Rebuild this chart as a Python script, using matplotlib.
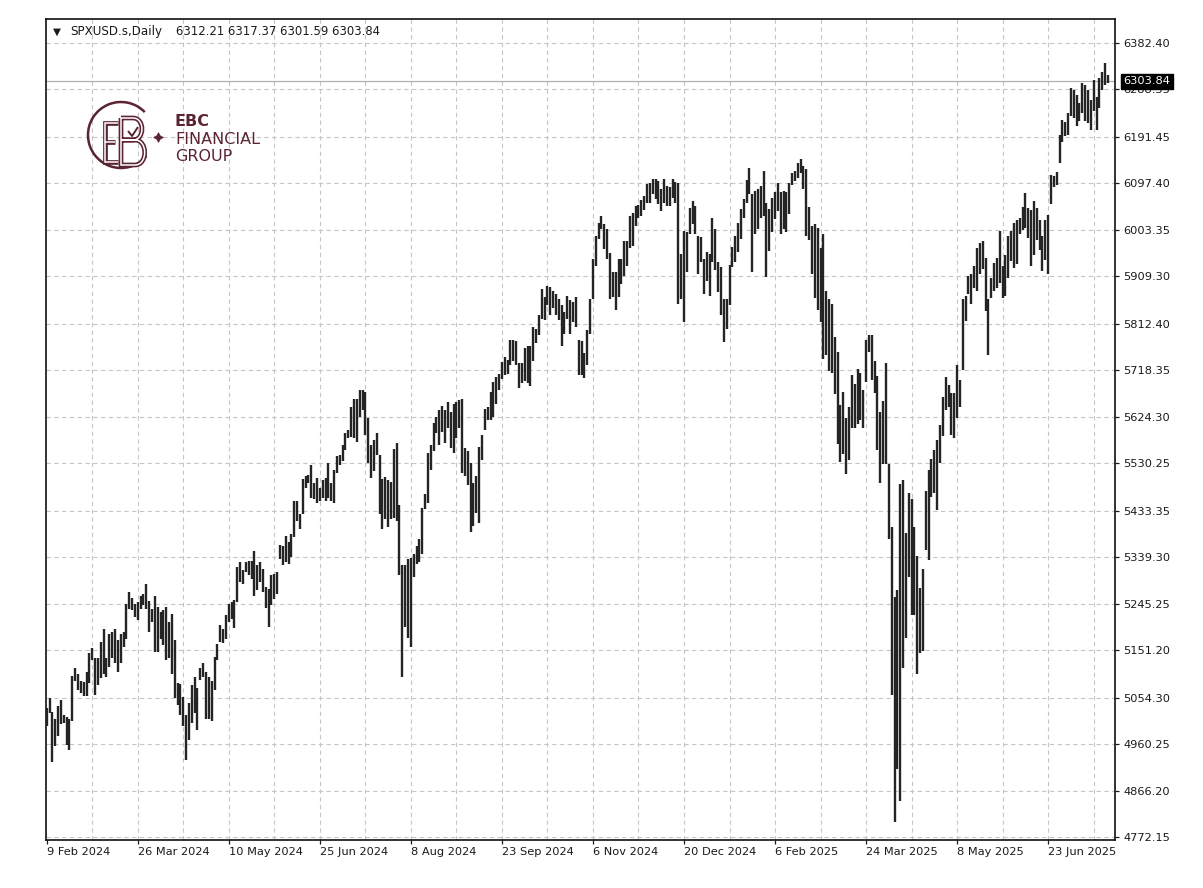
import matplotlib
matplotlib.use("Agg")
import matplotlib.pyplot as plt
import matplotlib.patheffects as pe
from matplotlib.patches import Arc, PathPatch
from matplotlib.path import Path
import numpy as np

# ---- data ----
symbol = "SPXUSD.s,Daily"
last_ohlc = [6312.21, 6317.37, 6301.59, 6303.84]
date_labels = ["9 Feb 2024", "26 Mar 2024", "10 May 2024", "25 Jun 2024",
               "8 Aug 2024", "23 Sep 2024", "6 Nov 2024", "20 Dec 2024",
               "6 Feb 2025", "24 Mar 2025", "8 May 2025", "23 Jun 2025"]
price_ticks = [6382.40, 6288.55, 6191.45, 6097.40, 6003.35, 5909.30, 5812.40,
               5718.35, 5624.30, 5530.25, 5433.35, 5339.30, 5245.25, 5151.20,
               5054.30, 4960.25, 4866.20, 4772.15]

# daily highs, Feb 2024 -> Jul 2025
highs = [
    5034, 5054, 5027, 5011, 5039, 5050, 5021, 5016, 5012, 5099,
    5115, 5103, 5088, 5086, 5108, 5146, 5155, 5135, 5135, 5168,
    5195, 5135, 5185, 5188, 5195, 5171, 5185, 5188, 5245, 5269,
    5258, 5245, 5249, 5262, 5265, 5285, 5252, 5235, 5262, 5238,
    5228, 5232, 5238, 5208, 5225, 5171, 5084, 5083, 5057, 5021,
    5044, 5081, 5098, 5074, 5115, 5125, 5108, 5098, 5088, 5138,
    5163, 5202, 5195, 5222, 5245, 5248, 5254,
    5319, 5331, 5313, 5331, 5333, 5333, 5353, 5324, 5330, 5316,
    5279, 5276, 5303, 5306, 5309, 5364, 5363, 5383, 5370, 5386,
    5453, 5453, 5427, 5498, 5504, 5507, 5527, 5490, 5500, 5480,
    5497, 5500, 5530, 5490, 5517, 5544, 5547, 5567, 5591, 5597,
    5644, 5661, 5661, 5678, 5679, 5675, 5621, 5567, 5577, 5591,
    5547, 5498, 5502, 5496, 5493, 5559, 5571, 5445, 5323, 5323,
    5336, 5339, 5346, 5363, 5376, 5440, 5467, 5551, 5567, 5611,
    5624, 5638, 5646, 5638, 5654, 5634, 5651, 5654, 5658, 5661,
    5561, 5554, 5531, 5490, 5504, 5564, 5587, 5641, 5644, 5675,
    5695, 5705, 5711, 5735, 5745, 5740,
    5780, 5780, 5778, 5733, 5733, 5763, 5767, 5767, 5807, 5803,
    5830, 5884, 5867, 5890, 5887, 5880, 5874, 5864, 5850, 5837,
    5870, 5860, 5857, 5867, 5780, 5777, 5753, 5800, 5864, 5944,
    5991, 6017, 6031, 6014, 6004, 5957, 5917, 5917, 5944, 5944,
    5980, 5980, 6031, 6037, 6051, 6054, 6064, 6071, 6097,
    6099, 6107, 6106, 6102, 6085, 6106, 6092, 6089, 6106, 6100,
    6098, 5954, 6001, 5998, 6048, 6062, 6052, 5991, 5988, 5944,
    5958, 5954, 6028, 6005, 5937, 5927, 5864, 5864, 5931, 5968,
    5991, 6018, 6045, 6065, 6105, 6129, 6075, 6082, 6085, 6092,
    6122, 6058, 6045, 6068, 6079, 6099, 6079, 6082, 6079, 6099,
    6119, 6122, 6139, 6146, 6132, 6126, 6050,
    6011, 6015, 6007, 5966, 5994, 5880, 5864, 5852, 5787, 5755,
    5649, 5674, 5621, 5645, 5710, 5690, 5722, 5714, 5678, 5779,
    5791, 5791, 5738, 5706, 5633, 5657, 5734, 5528, 5400, 5260,
    5274, 5489, 5497, 5388, 5469, 5457, 5400, 5343, 5278, 5316,
    5473, 5516, 5538, 5558, 5578, 5608, 5665, 5705, 5689, 5672,
    5672, 5729, 5699,
    5863, 5870, 5910, 5913, 5930, 5967, 5977, 5980, 5947, 5863,
    5906, 5936, 5946, 6000, 5930, 5953, 5990, 6000, 6017, 6024,
    6027, 6050, 6077, 6047, 6044, 6061, 6047, 6024, 5990, 6024,
    6034,
    6115, 6112, 6120, 6196, 6226, 6222, 6240, 6290, 6287, 6277,
    6260, 6300, 6297, 6287, 6267, 6307, 6273, 6310, 6324, 6342,
    6317.37,
]

# daily lows, same bars
lows = [
    4997, 5024, 4925, 4957, 4977, 5001, 5004, 4960, 4950, 5007,
    5088, 5071, 5064, 5058, 5058, 5084, 5131, 5061, 5081, 5094,
    5104, 5098, 5118, 5135, 5125, 5108, 5125, 5158, 5175, 5235,
    5232, 5218, 5212, 5235, 5242, 5235, 5188, 5208, 5148, 5148,
    5175, 5161, 5131, 5135, 5104, 5054, 5041, 5021, 4997, 4929,
    4970, 5004, 5024, 4990, 5091, 5098, 5011, 5011, 5007, 5071,
    5131, 5168, 5165, 5175, 5208, 5215, 5196,
    5249, 5289, 5286, 5309, 5304, 5296, 5261, 5273, 5289, 5269,
    5236, 5199, 5243, 5256, 5266, 5336, 5323, 5330, 5326, 5340,
    5380, 5413, 5397, 5427, 5480, 5490, 5460, 5457, 5450, 5453,
    5460, 5453, 5460, 5453, 5450, 5510, 5527, 5534, 5557, 5581,
    5584, 5581, 5574, 5624, 5638, 5587, 5530, 5500, 5514, 5547,
    5427, 5397, 5417, 5400, 5417, 5420, 5413, 5303, 5096, 5199,
    5176, 5157, 5299, 5326, 5330, 5346, 5437, 5450, 5517, 5554,
    5591, 5567, 5594, 5571, 5601, 5561, 5551, 5581, 5601, 5510,
    5504, 5487, 5390, 5403, 5430, 5410, 5537, 5597, 5618, 5618,
    5624, 5651, 5678, 5700, 5708, 5712,
    5730, 5737, 5730, 5683, 5693, 5696, 5693, 5686, 5737, 5773,
    5790, 5823, 5820, 5850, 5830, 5844, 5830, 5820, 5767, 5793,
    5823, 5793, 5817, 5807, 5710, 5710, 5703, 5730, 5793, 5864,
    5930, 5984, 6004, 5964, 5944, 5864, 5867, 5840, 5867, 5894,
    5910, 5930, 5967, 5970, 6011, 6027, 6031, 6044, 6057,
    6058, 6075, 6065, 6055, 6042, 6058, 6052, 6052, 6068, 6058,
    5853, 5864, 5816, 5917, 5995, 6015, 5995, 5914, 5937, 5874,
    5900, 5870, 5937, 5921, 5877, 5830, 5776, 5803, 5850, 5927,
    5937, 5958, 5984, 6028, 6058, 6075, 5917, 5995, 6005, 6028,
    6032, 5907, 5961, 5998, 6025, 6042, 5995, 6005, 5998, 6035,
    6095, 6102, 6109, 6119, 6085, 5990, 5983,
    5914, 5865, 5840, 5816, 5742, 5750, 5718, 5714, 5670, 5569,
    5532, 5548, 5508, 5536, 5601, 5601, 5609, 5617, 5601, 5694,
    5755, 5698, 5673, 5557, 5490, 5528, 5528, 5376, 5060, 4803,
    4910, 4846, 5116, 5177, 5299, 5222, 5222, 5104, 5145, 5149,
    5355, 5335, 5461, 5469, 5436, 5531, 5585, 5638, 5645, 5588,
    5581, 5622, 5645,
    5720, 5819, 5873, 5853, 5886, 5880, 5913, 5923, 5839, 5749,
    5866, 5880, 5886, 5896, 5866, 5869, 5906, 5940, 5926, 5933,
    5994, 6003, 6007, 5987, 5930, 5953, 5983, 5963, 5920, 5943,
    5913,
    6055, 6090, 6095, 6139, 6181, 6193, 6196, 6233, 6230, 6213,
    6223, 6240, 6223, 6220, 6206, 6243, 6206, 6250, 6287, 6297,
    6301.59,
]

W, H = 1203, 888
bar_col = "#242424"
grid_col = "#c6c6c6"
logo_col = "#5a2432"
txt_col = "#1a1a1a"

fig = plt.figure(figsize=(W / 100, H / 100), dpi=100)
fig.patch.set_facecolor("white")

# plot frame in pixels: left 46, right 1115, top 19, bottom 840
ax = fig.add_axes([46 / W, 1 - 840 / H, (1115 - 46) / W, (840 - 19) / H])
x = np.arange(len(highs))
ax.vlines(x, lows, highs, color=bar_col, linewidth=1.7, zorder=3)

ax.set_xlim(-0.25, 375.5)
ax.set_ylim(4766.7, 6430.4)

# dashed grid
for p in price_ticks:
    ax.axhline(p, color=grid_col, lw=0.8, ls=(0, (4, 3)), zorder=1)
for i in range(16, 376, 16):
    ax.axvline(i, color=grid_col, lw=0.8, ls=(0, (4, 3)), zorder=1)

# current price line
ax.axhline(last_ohlc[3], color="#b0b0b0", lw=0.9, zorder=2)

for s in ax.spines.values():
    s.set_linewidth(1.2)
    s.set_color("#111111")

ax.yaxis.tick_right()
ax.set_yticks(price_ticks)
ax.set_yticklabels([f"{p:.2f}" for p in price_ticks])
ax.set_xticks(range(0, 32 * len(date_labels), 32))
ax.set_xticklabels(date_labels, ha="left")
ax.tick_params(axis="y", direction="out", length=3, width=0.9, pad=3,
               labelsize=8.2, colors=txt_col)
ax.tick_params(axis="x", direction="out", length=3, width=0.9, pad=2,
               labelsize=8.2, colors=txt_col)

# black price tag on the right scale
ax.annotate(f"{last_ohlc[3]:.2f}", xy=(1.0, last_ohlc[3]),
            xycoords=("axes fraction", "data"), xytext=(6, 0),
            textcoords="offset points", va="center", ha="left",
            fontsize=8.2, color="white", annotation_clip=False, zorder=20,
            bbox=dict(boxstyle="square,pad=0.22", fc="black", ec="black"))

# overlay in pixel coordinates for header and logo
ov = fig.add_axes([0, 0, 1, 1], zorder=5)
ov.set_xlim(0, W)
ov.set_ylim(H, 0)
ov.axis("off")

ov.text(57, 31.5, "\u25BC", fontsize=7.5, color=txt_col, ha="center", va="center")
ov.text(70, 31.5, symbol, fontsize=8.6, color=txt_col, ha="left", va="center")
ov.text(176, 31.5, " ".join(f"{v:.2f}" for v in last_ohlc), fontsize=8.4,
        color=txt_col, ha="left", va="center")

# EBC logo (approximation): ring open on the right, outlined E/B monogram,
# four-point star in the gap, wordmark
ov.add_patch(Arc((121, 135), 66, 66, theta1=40, theta2=316,
                 color=logo_col, lw=1.8))
ov.plot([158], [137], marker=(4, 1, 0), markersize=7, color=logo_col,
        markeredgewidth=0.5)

double_line = [pe.Stroke(linewidth=3.4, foreground=logo_col),
               pe.Stroke(linewidth=1.1, foreground="white")]
C = Path.CURVE4
e_path = Path([(118, 123), (105, 123), (105, 162), (118, 162),
               (105, 142), (115, 142)],
              [Path.MOVETO, Path.LINETO, Path.LINETO, Path.LINETO,
               Path.MOVETO, Path.LINETO])
b_path = Path([(121, 118), (133, 118), (145, 118), (145, 140), (133, 140),
               (121, 140), (121, 140), (135, 140), (148, 140), (148, 165),
               (135, 165), (121, 165), (121, 118)],
              [Path.MOVETO, Path.LINETO, C, C, C, Path.LINETO,
               Path.MOVETO, Path.LINETO, C, C, C, Path.LINETO, Path.LINETO])
for pth in (e_path, b_path):
    ov.add_patch(PathPatch(pth, fill=False, lw=3.4, ec=logo_col,
                           path_effects=double_line, capstyle="butt",
                           joinstyle="miter"))
# small check mark inside the upper bowl of the B
ov.plot([128, 132, 138], [131, 136, 127], color=logo_col, lw=1.4,
        solid_capstyle="butt")

ov.text(175, 122, "EBC", fontsize=11.5, fontweight="bold", color=logo_col,
        ha="left", va="center")
ov.text(175, 139.5, "FINANCIAL", fontsize=11.5, color=logo_col,
        ha="left", va="center")
ov.text(175, 156.5, "GROUP", fontsize=11.5, color=logo_col,
        ha="left", va="center")

fig.savefig("out.png", dpi=100, facecolor="white")
